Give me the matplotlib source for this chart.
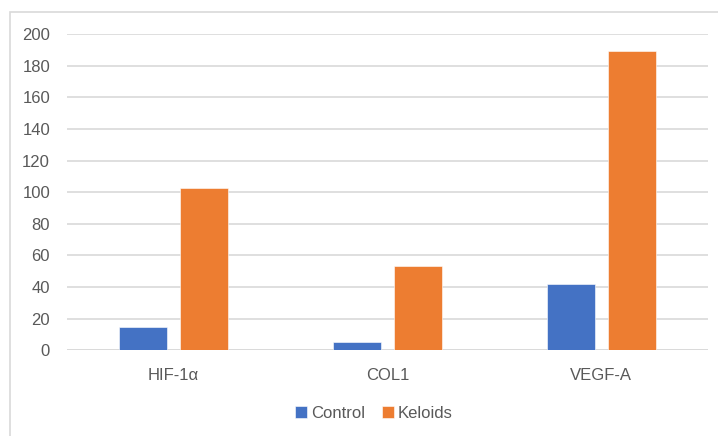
import matplotlib
matplotlib.use("Agg")
import matplotlib.pyplot as plt
import matplotlib.patches as mpatches
import numpy as np

categories = ["HIF-1\u03b1", "COL1", "VEGF-A"]
control = [14.8, 5.3, 41.8]
keloids = [102.8, 53.2, 189.2]
series_names = ["Control", "Keloids"]
yticks = [0, 20, 40, 60, 80, 100, 120, 140, 160, 180, 200]

plt.rcParams['font.family'] = ['Liberation Sans', 'DejaVu Sans']
W, H = 718, 436
fig = plt.figure(figsize=(W/100, H/100), dpi=100)
fig.patch.set_facecolor('white')

# chart frame (cropped on right/bottom)
frame = mpatches.Rectangle((10/W, -0.2), 1.5, 1.2 - 12/H + 0.0, transform=fig.transFigure,
                           fill=False, edgecolor='#d9d9d9', linewidth=1.2, zorder=0)
fig.patches.append(frame)

ax = fig.add_axes([66.7/W, 1 - 350.3/H, (708.3-66.7)/W, (350.3-34)/H])
x = np.arange(len(categories))
bw = 0.224
off = 0.142
ax.bar(x - off, control, bw, color='#4472C4', edgecolor='white', linewidth=0.4, zorder=3, label=series_names[0])
ax.bar(x + off, keloids, bw, color='#ED7D31', edgecolor='white', linewidth=0.4, zorder=3, label=series_names[1])

ax.set_xlim(-0.5, len(categories) - 0.5)
ax.set_ylim(0, 200)
ax.set_yticks(yticks)
ax.set_xticks(x)
ax.set_xticklabels(categories)
for s in ax.spines.values():
    s.set_visible(False)
ax.yaxis.grid(True, color='#d9d9d9', linewidth=1.2, zorder=0)
ax.set_axisbelow(True)
ax.axhline(0, color='#d9d9d9', linewidth=1.2, zorder=2)
ax.tick_params(axis='both', length=0, labelsize=12, labelcolor='#595959')
ax.tick_params(axis='y', pad=12)
ax.tick_params(axis='x', pad=13)

leg = fig.legend(loc='center', bbox_to_anchor=(374/W, 1 - 413/H), ncol=2, frameon=False,
                 fontsize=12, labelcolor='#595959', handlelength=0.7, handleheight=0.7,
                 handletextpad=0.25, columnspacing=1.0)

fig.savefig('out.png', dpi=100)
